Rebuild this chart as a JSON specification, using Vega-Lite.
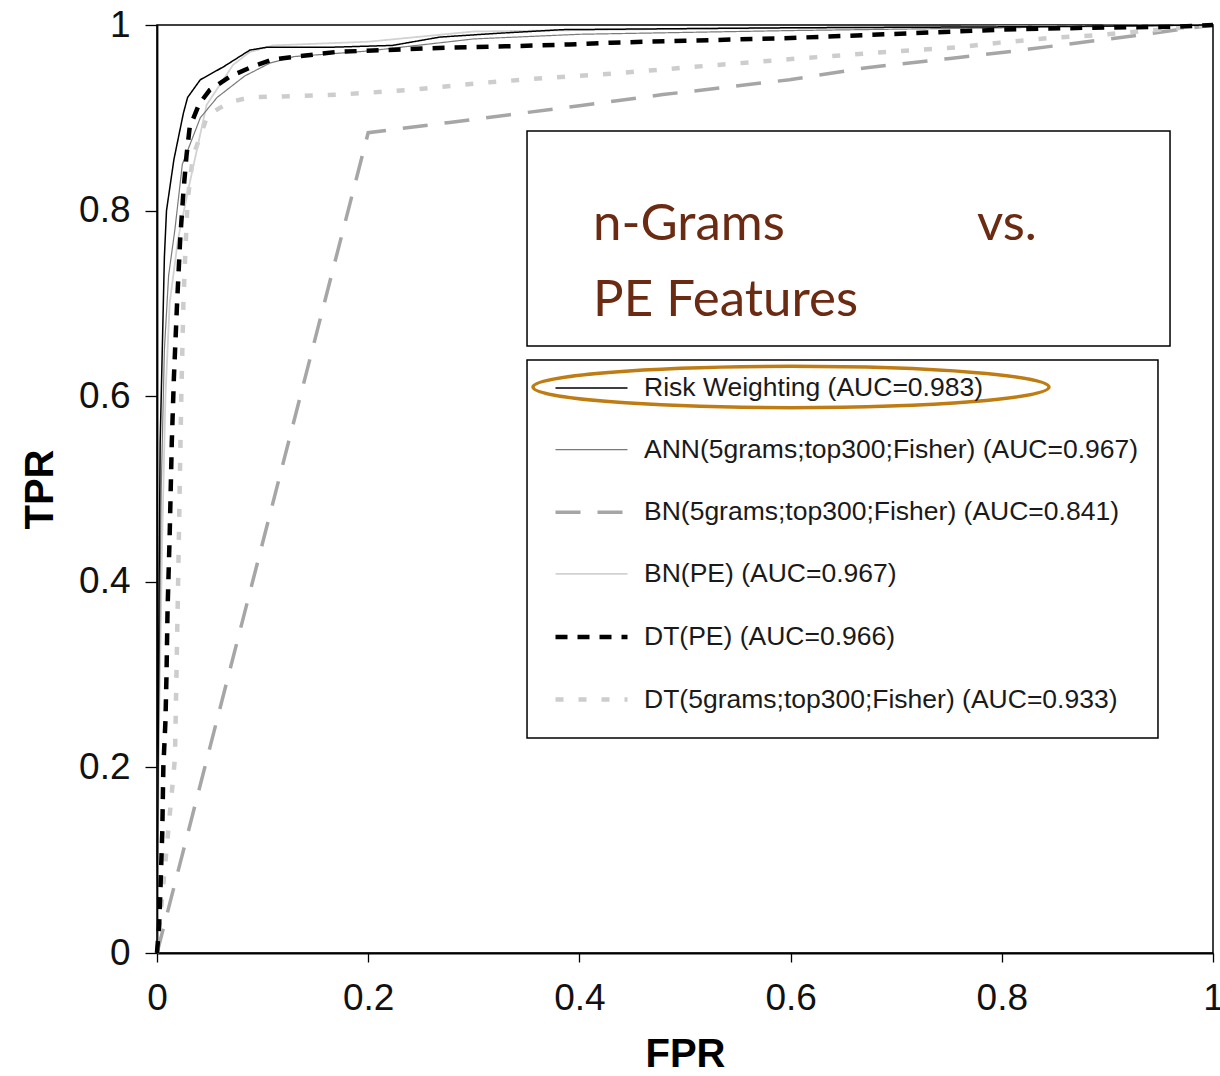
{
  "$schema": "https://vega.github.io/schema/vega-lite/v6.json",
  "width": 1056,
  "height": 928,
  "autosize": {"type": "none"},
  "padding": {"left": 157, "top": 25, "right": 7, "bottom": 123},
  "background": "white",
  "config": {
    "view": {"stroke": "black", "strokeWidth": 1.5},
    "axis": {
      "labelFont": "Liberation Sans",
      "labelFontSize": 37,
      "labelColor": "#111",
      "labelFlush": false,
      "titleFont": "Liberation Sans",
      "titleFontSize": 40,
      "titleFontWeight": "bold",
      "titleColor": "#000",
      "domainColor": "#000",
      "domainWidth": 1.8,
      "tickColor": "#000",
      "tickWidth": 1.3,
      "gridWidth": 1.3
    },
    "legend": {
      "orient": "none",
      "legendX": 396,
      "legendY": 326,
      "padding": 0,
      "symbolType": "stroke",
      "symbolSize": 5184,
      "labelFont": "Liberation Sans",
      "labelFontSize": 26.5,
      "labelColor": "#1a1a1a",
      "labelOffset": 14,
      "labelLimit": 0,
      "rowPadding": 10.6
    },
    "text": {"font": "Lato", "fontSize": 51, "color": "#6b2a12", "align": "left", "baseline": "alphabetic"}
  },
  "datasets": {
    "roc": [
      {"model": "BN(5grams;top300;Fisher) (AUC=0.841)", "fpr": 0, "tpr": 0},
      {"model": "BN(5grams;top300;Fisher) (AUC=0.841)", "fpr": 0.2, "tpr": 0.884},
      {"model": "BN(5grams;top300;Fisher) (AUC=0.841)", "fpr": 0.277, "tpr": 0.895},
      {"model": "BN(5grams;top300;Fisher) (AUC=0.841)", "fpr": 0.4, "tpr": 0.913},
      {"model": "BN(5grams;top300;Fisher) (AUC=0.841)", "fpr": 0.479, "tpr": 0.925},
      {"model": "BN(5grams;top300;Fisher) (AUC=0.841)", "fpr": 0.599, "tpr": 0.941},
      {"model": "BN(5grams;top300;Fisher) (AUC=0.841)", "fpr": 0.672, "tpr": 0.954},
      {"model": "BN(5grams;top300;Fisher) (AUC=0.841)", "fpr": 0.751, "tpr": 0.964},
      {"model": "BN(5grams;top300;Fisher) (AUC=0.841)", "fpr": 0.798, "tpr": 0.97},
      {"model": "BN(5grams;top300;Fisher) (AUC=0.841)", "fpr": 0.909, "tpr": 0.986},
      {"model": "BN(5grams;top300;Fisher) (AUC=0.841)", "fpr": 1, "tpr": 1},

      {"model": "DT(5grams;top300;Fisher) (AUC=0.933)", "fpr": 0, "tpr": 0},
      {"model": "DT(5grams;top300;Fisher) (AUC=0.933)", "fpr": 0.017, "tpr": 0.21},
      {"model": "DT(5grams;top300;Fisher) (AUC=0.933)", "fpr": 0.02, "tpr": 0.4},
      {"model": "DT(5grams;top300;Fisher) (AUC=0.933)", "fpr": 0.023, "tpr": 0.6},
      {"model": "DT(5grams;top300;Fisher) (AUC=0.933)", "fpr": 0.025, "tpr": 0.7},
      {"model": "DT(5grams;top300;Fisher) (AUC=0.933)", "fpr": 0.027, "tpr": 0.76},
      {"model": "DT(5grams;top300;Fisher) (AUC=0.933)", "fpr": 0.029, "tpr": 0.811},
      {"model": "DT(5grams;top300;Fisher) (AUC=0.933)", "fpr": 0.034, "tpr": 0.858},
      {"model": "DT(5grams;top300;Fisher) (AUC=0.933)", "fpr": 0.048, "tpr": 0.903},
      {"model": "DT(5grams;top300;Fisher) (AUC=0.933)", "fpr": 0.069, "tpr": 0.917},
      {"model": "DT(5grams;top300;Fisher) (AUC=0.933)", "fpr": 0.088, "tpr": 0.922},
      {"model": "DT(5grams;top300;Fisher) (AUC=0.933)", "fpr": 0.173, "tpr": 0.925},
      {"model": "DT(5grams;top300;Fisher) (AUC=0.933)", "fpr": 0.24, "tpr": 0.93},
      {"model": "DT(5grams;top300;Fisher) (AUC=0.933)", "fpr": 0.306, "tpr": 0.9375},
      {"model": "DT(5grams;top300;Fisher) (AUC=0.933)", "fpr": 0.369, "tpr": 0.943},
      {"model": "DT(5grams;top300;Fisher) (AUC=0.933)", "fpr": 0.436, "tpr": 0.948},
      {"model": "DT(5grams;top300;Fisher) (AUC=0.933)", "fpr": 0.498, "tpr": 0.954},
      {"model": "DT(5grams;top300;Fisher) (AUC=0.933)", "fpr": 0.609, "tpr": 0.964},
      {"model": "DT(5grams;top300;Fisher) (AUC=0.933)", "fpr": 0.691, "tpr": 0.971},
      {"model": "DT(5grams;top300;Fisher) (AUC=0.933)", "fpr": 0.758, "tpr": 0.976},
      {"model": "DT(5grams;top300;Fisher) (AUC=0.933)", "fpr": 0.798, "tpr": 0.981},
      {"model": "DT(5grams;top300;Fisher) (AUC=0.933)", "fpr": 0.846, "tpr": 0.986},
      {"model": "DT(5grams;top300;Fisher) (AUC=0.933)", "fpr": 0.89, "tpr": 0.989},
      {"model": "DT(5grams;top300;Fisher) (AUC=0.933)", "fpr": 1, "tpr": 1},

      {"model": "BN(PE) (AUC=0.967)", "fpr": 0, "tpr": 0},
      {"model": "BN(PE) (AUC=0.967)", "fpr": 0.002, "tpr": 0.25},
      {"model": "BN(PE) (AUC=0.967)", "fpr": 0.005, "tpr": 0.45},
      {"model": "BN(PE) (AUC=0.967)", "fpr": 0.008, "tpr": 0.6},
      {"model": "BN(PE) (AUC=0.967)", "fpr": 0.012, "tpr": 0.7},
      {"model": "BN(PE) (AUC=0.967)", "fpr": 0.02, "tpr": 0.77},
      {"model": "BN(PE) (AUC=0.967)", "fpr": 0.031, "tpr": 0.83},
      {"model": "BN(PE) (AUC=0.967)", "fpr": 0.047, "tpr": 0.914},
      {"model": "BN(PE) (AUC=0.967)", "fpr": 0.072, "tpr": 0.957},
      {"model": "BN(PE) (AUC=0.967)", "fpr": 0.088, "tpr": 0.971},
      {"model": "BN(PE) (AUC=0.967)", "fpr": 0.11, "tpr": 0.978},
      {"model": "BN(PE) (AUC=0.967)", "fpr": 0.2, "tpr": 0.982},
      {"model": "BN(PE) (AUC=0.967)", "fpr": 0.3, "tpr": 0.993},
      {"model": "BN(PE) (AUC=0.967)", "fpr": 0.5, "tpr": 0.996},
      {"model": "BN(PE) (AUC=0.967)", "fpr": 1, "tpr": 1},

      {"model": "ANN(5grams;top300;Fisher) (AUC=0.967)", "fpr": 0, "tpr": 0},
      {"model": "ANN(5grams;top300;Fisher) (AUC=0.967)", "fpr": 0.002, "tpr": 0.3},
      {"model": "ANN(5grams;top300;Fisher) (AUC=0.967)", "fpr": 0.004, "tpr": 0.5},
      {"model": "ANN(5grams;top300;Fisher) (AUC=0.967)", "fpr": 0.007, "tpr": 0.65},
      {"model": "ANN(5grams;top300;Fisher) (AUC=0.967)", "fpr": 0.011, "tpr": 0.73},
      {"model": "ANN(5grams;top300;Fisher) (AUC=0.967)", "fpr": 0.017, "tpr": 0.78},
      {"model": "ANN(5grams;top300;Fisher) (AUC=0.967)", "fpr": 0.024, "tpr": 0.85},
      {"model": "ANN(5grams;top300;Fisher) (AUC=0.967)", "fpr": 0.041, "tpr": 0.9},
      {"model": "ANN(5grams;top300;Fisher) (AUC=0.967)", "fpr": 0.057, "tpr": 0.922},
      {"model": "ANN(5grams;top300;Fisher) (AUC=0.967)", "fpr": 0.083, "tpr": 0.945},
      {"model": "ANN(5grams;top300;Fisher) (AUC=0.967)", "fpr": 0.107, "tpr": 0.959},
      {"model": "ANN(5grams;top300;Fisher) (AUC=0.967)", "fpr": 0.13, "tpr": 0.966},
      {"model": "ANN(5grams;top300;Fisher) (AUC=0.967)", "fpr": 0.2, "tpr": 0.972},
      {"model": "ANN(5grams;top300;Fisher) (AUC=0.967)", "fpr": 0.3, "tpr": 0.985},
      {"model": "ANN(5grams;top300;Fisher) (AUC=0.967)", "fpr": 0.4, "tpr": 0.99},
      {"model": "ANN(5grams;top300;Fisher) (AUC=0.967)", "fpr": 0.6, "tpr": 0.994},
      {"model": "ANN(5grams;top300;Fisher) (AUC=0.967)", "fpr": 0.8, "tpr": 0.997},
      {"model": "ANN(5grams;top300;Fisher) (AUC=0.967)", "fpr": 1, "tpr": 1},

      {"model": "Risk Weighting (AUC=0.983)", "fpr": 0, "tpr": 0},
      {"model": "Risk Weighting (AUC=0.983)", "fpr": 0.001, "tpr": 0.2},
      {"model": "Risk Weighting (AUC=0.983)", "fpr": 0.002, "tpr": 0.4},
      {"model": "Risk Weighting (AUC=0.983)", "fpr": 0.003, "tpr": 0.55},
      {"model": "Risk Weighting (AUC=0.983)", "fpr": 0.005, "tpr": 0.65},
      {"model": "Risk Weighting (AUC=0.983)", "fpr": 0.007, "tpr": 0.75},
      {"model": "Risk Weighting (AUC=0.983)", "fpr": 0.009, "tpr": 0.8},
      {"model": "Risk Weighting (AUC=0.983)", "fpr": 0.016, "tpr": 0.855},
      {"model": "Risk Weighting (AUC=0.983)", "fpr": 0.025, "tpr": 0.905},
      {"model": "Risk Weighting (AUC=0.983)", "fpr": 0.029, "tpr": 0.922},
      {"model": "Risk Weighting (AUC=0.983)", "fpr": 0.041, "tpr": 0.941},
      {"model": "Risk Weighting (AUC=0.983)", "fpr": 0.063, "tpr": 0.955},
      {"model": "Risk Weighting (AUC=0.983)", "fpr": 0.088, "tpr": 0.973},
      {"model": "Risk Weighting (AUC=0.983)", "fpr": 0.104, "tpr": 0.976},
      {"model": "Risk Weighting (AUC=0.983)", "fpr": 0.164, "tpr": 0.976},
      {"model": "Risk Weighting (AUC=0.983)", "fpr": 0.223, "tpr": 0.978},
      {"model": "Risk Weighting (AUC=0.983)", "fpr": 0.268, "tpr": 0.987},
      {"model": "Risk Weighting (AUC=0.983)", "fpr": 0.322, "tpr": 0.991},
      {"model": "Risk Weighting (AUC=0.983)", "fpr": 0.384, "tpr": 0.995},
      {"model": "Risk Weighting (AUC=0.983)", "fpr": 0.6, "tpr": 0.997},
      {"model": "Risk Weighting (AUC=0.983)", "fpr": 0.8, "tpr": 0.998},
      {"model": "Risk Weighting (AUC=0.983)", "fpr": 1, "tpr": 1},

      {"model": "DT(PE) (AUC=0.966)", "fpr": 0, "tpr": 0},
      {"model": "DT(PE) (AUC=0.966)", "fpr": 0.002, "tpr": 0.03},
      {"model": "DT(PE) (AUC=0.966)", "fpr": 0.003, "tpr": 0.06},
      {"model": "DT(PE) (AUC=0.966)", "fpr": 0.005, "tpr": 0.13},
      {"model": "DT(PE) (AUC=0.966)", "fpr": 0.006, "tpr": 0.2},
      {"model": "DT(PE) (AUC=0.966)", "fpr": 0.008, "tpr": 0.25},
      {"model": "DT(PE) (AUC=0.966)", "fpr": 0.009, "tpr": 0.3},
      {"model": "DT(PE) (AUC=0.966)", "fpr": 0.01, "tpr": 0.37},
      {"model": "DT(PE) (AUC=0.966)", "fpr": 0.012, "tpr": 0.45},
      {"model": "DT(PE) (AUC=0.966)", "fpr": 0.014, "tpr": 0.55},
      {"model": "DT(PE) (AUC=0.966)", "fpr": 0.016, "tpr": 0.62},
      {"model": "DT(PE) (AUC=0.966)", "fpr": 0.019, "tpr": 0.7},
      {"model": "DT(PE) (AUC=0.966)", "fpr": 0.022, "tpr": 0.77},
      {"model": "DT(PE) (AUC=0.966)", "fpr": 0.025, "tpr": 0.82},
      {"model": "DT(PE) (AUC=0.966)", "fpr": 0.028, "tpr": 0.86},
      {"model": "DT(PE) (AUC=0.966)", "fpr": 0.031, "tpr": 0.89},
      {"model": "DT(PE) (AUC=0.966)", "fpr": 0.04, "tpr": 0.915},
      {"model": "DT(PE) (AUC=0.966)", "fpr": 0.05, "tpr": 0.93},
      {"model": "DT(PE) (AUC=0.966)", "fpr": 0.07, "tpr": 0.945},
      {"model": "DT(PE) (AUC=0.966)", "fpr": 0.09, "tpr": 0.955},
      {"model": "DT(PE) (AUC=0.966)", "fpr": 0.11, "tpr": 0.963},
      {"model": "DT(PE) (AUC=0.966)", "fpr": 0.17, "tpr": 0.971},
      {"model": "DT(PE) (AUC=0.966)", "fpr": 0.26, "tpr": 0.975},
      {"model": "DT(PE) (AUC=0.966)", "fpr": 0.33, "tpr": 0.977},
      {"model": "DT(PE) (AUC=0.966)", "fpr": 0.39, "tpr": 0.979},
      {"model": "DT(PE) (AUC=0.966)", "fpr": 0.43, "tpr": 0.981},
      {"model": "DT(PE) (AUC=0.966)", "fpr": 0.5, "tpr": 0.983},
      {"model": "DT(PE) (AUC=0.966)", "fpr": 0.6, "tpr": 0.986},
      {"model": "DT(PE) (AUC=0.966)", "fpr": 0.69, "tpr": 0.99},
      {"model": "DT(PE) (AUC=0.966)", "fpr": 0.8, "tpr": 0.995},
      {"model": "DT(PE) (AUC=0.966)", "fpr": 0.88, "tpr": 0.997},
      {"model": "DT(PE) (AUC=0.966)", "fpr": 0.96, "tpr": 0.998},
      {"model": "DT(PE) (AUC=0.966)", "fpr": 1, "tpr": 1}
    ],
    "heading": [
      {"label": "n-Grams", "part": "first"},
      {"label": "vs.", "part": "middle"},
      {"label": "PE Features", "part": "last"}
    ]
  },
  "layer": [
    {
      "data": {"values": [{"box": "heading"}]},
      "mark": {"type": "rect", "fill": "white", "stroke": "black", "strokeWidth": 1.5},
      "encoding": {
        "x": {"datum": 0.3504, "type": "quantitative", "scale": {"domain": [0, 1]},
          "axis": {
            "title": "FPR", "values": [0, 0.2, 0.4, 0.6, 0.8, 1], "format": ".1~f",
            "tickSize": 9, "labelPadding": 18, "titlePadding": 18,
            "gridColor": {"condition": {"test": "datum.value === 0.4 || datum.value === 0.8", "value": "#000"}, "value": "#777"}
          }},
        "x2": {"datum": 0.9593},
        "y": {"datum": 0.8858, "type": "quantitative", "scale": {"domain": [0, 1]},
          "axis": {
            "title": "TPR", "values": [0, 0.2, 0.4, 0.6, 0.8, 1], "format": ".1~f",
            "tickSize": 12, "labelPadding": 15, "titlePadding": 18,
            "gridColor": {"condition": {"test": "datum.value === 0.4", "value": "#000"}, "value": "#888"}
          }},
        "y2": {"datum": 0.6541}
      }
    },
    {
      "data": {"values": [{"box": "legend"}]},
      "mark": {"type": "rect", "fill": "white", "stroke": "black", "strokeWidth": 1.5},
      "encoding": {
        "x": {"datum": 0.3504, "type": "quantitative"},
        "x2": {"datum": 0.9479},
        "y": {"datum": 0.639, "type": "quantitative"},
        "y2": {"datum": 0.2317}
      }
    },
    {
      "data": {"name": "heading"},
      "transform": [{"filter": "datum.part === 'first'"}],
      "mark": {"type": "text"},
      "encoding": {
        "x": {"datum": 0.4129, "type": "quantitative"},
        "y": {"datum": 0.7683, "type": "quantitative"},
        "text": {"field": "label"}
      }
    },
    {
      "data": {"name": "heading"},
      "transform": [{"filter": "datum.part === 'middle'"}],
      "mark": {"type": "text"},
      "encoding": {
        "x": {"datum": 0.7765, "type": "quantitative"},
        "y": {"datum": 0.7683, "type": "quantitative"},
        "text": {"field": "label"}
      }
    },
    {
      "data": {"name": "heading"},
      "transform": [{"filter": "datum.part === 'last'"}],
      "mark": {"type": "text"},
      "encoding": {
        "x": {"datum": 0.4129, "type": "quantitative"},
        "y": {"datum": 0.6864, "type": "quantitative"},
        "text": {"field": "label"}
      }
    },
    {
      "data": {"name": "roc"},
      "mark": {"type": "line", "interpolate": "linear", "strokeCap": "butt"},
      "encoding": {
        "x": {"field": "fpr", "type": "quantitative"},
        "y": {"field": "tpr", "type": "quantitative"},
        "color": {
          "field": "model", "type": "nominal", "title": null,
          "scale": {
            "domain": ["Risk Weighting (AUC=0.983)", "ANN(5grams;top300;Fisher) (AUC=0.967)", "BN(5grams;top300;Fisher) (AUC=0.841)", "BN(PE) (AUC=0.967)", "DT(PE) (AUC=0.966)", "DT(5grams;top300;Fisher) (AUC=0.933)"],
            "range": ["#000000", "#7a7a7a", "#a6a6a6", "#d2d2d2", "#000000", "#cdcdcd"]
          }
        },
        "strokeDash": {
          "field": "model", "type": "nominal", "title": null,
          "scale": {
            "domain": ["Risk Weighting (AUC=0.983)", "ANN(5grams;top300;Fisher) (AUC=0.967)", "BN(5grams;top300;Fisher) (AUC=0.841)", "BN(PE) (AUC=0.967)", "DT(PE) (AUC=0.966)", "DT(5grams;top300;Fisher) (AUC=0.933)"],
            "range": [[1, 0], [1, 0], [25, 17], [1, 0], [12, 10], [8, 15]]
          }
        },
        "strokeWidth": {
          "field": "model", "type": "ordinal", "title": null,
          "scale": {
            "type": "ordinal",
            "domain": ["Risk Weighting (AUC=0.983)", "ANN(5grams;top300;Fisher) (AUC=0.967)", "BN(5grams;top300;Fisher) (AUC=0.841)", "BN(PE) (AUC=0.967)", "DT(PE) (AUC=0.966)", "DT(5grams;top300;Fisher) (AUC=0.933)"],
            "range": [1.5, 1.2, 3.5, 1.8, 4.5, 4.5]
          }
        }
      }
    },
    {
      "data": {"values": [{"note": "highlight"}]},
      "mark": {
        "type": "point", "filled": false, "stroke": "#bf7c12", "strokeWidth": 3.5, "opacity": 1,
        "shape": "M -1 0 A 1 0.08 0 1 1 1 0 A 1 0.08 0 1 1 -1 0 Z",
        "size": 266256
      },
      "encoding": {
        "x": {"datum": 0.6004, "type": "quantitative"},
        "y": {"datum": 0.6099, "type": "quantitative"}
      }
    }
  ]
}
